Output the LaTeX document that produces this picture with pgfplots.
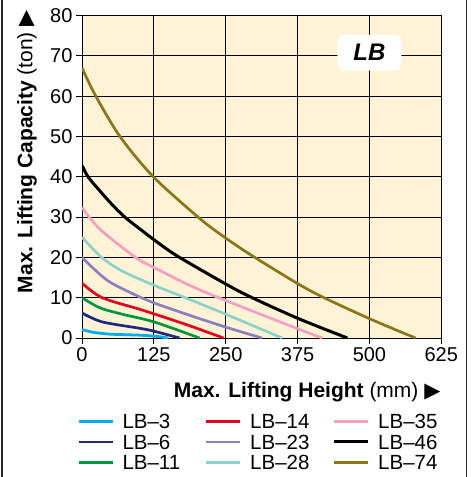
\documentclass[border=0pt]{standalone}
\usepackage{pgfplots}
\pgfplotsset{compat=1.18}
\usepackage{fontspec}
\setmainfont{Liberation Sans}
\newfontfamily\sym{DejaVu Sans}
\definecolor{bgc}{HTML}{FFF3D6}
\definecolor{cLBa}{HTML}{00AEEF}
\definecolor{cLBb}{HTML}{1B2A7E}
\definecolor{cLBc}{HTML}{00953F}
\definecolor{cLBd}{HTML}{E3051B}
\definecolor{cLBe}{HTML}{8E80C0}
\definecolor{cLBf}{HTML}{8ED1CB}
\definecolor{cLBg}{HTML}{F4A0C6}
\definecolor{cLBh}{HTML}{000000}
\definecolor{cLBi}{HTML}{8C7417}
\definecolor{gridgrey}{HTML}{6F6A5E}
\newcommand{\lent}[1]{\makebox[91pt][l]{\hspace{8.5pt}#1}}
\begin{document}
\begin{tikzpicture}[x=1pt,y=1pt]
\useasboundingbox (0,0) rectangle (471,477);
\draw[line width=1.5pt, black!85] (2,0) -- (2,477);
\draw[line width=1.5pt, black!85] (466.5,0) -- (466.5,477);
\begin{axis}[
  at={(82pt,139pt)}, anchor=south west,
  scale only axis, width=359.3pt, height=322.5pt,
  xmin=0, xmax=625, ymin=0, ymax=80,
  xtick={0,125,250,375,500,625}, ytick={0,10,20,30,40,50,60,70,80},
  grid=major, major grid style={black, line width=0.8pt},
  extra y ticks={0,10,40,70}, extra y tick labels={},
  extra y tick style={grid style={draw=gridgrey, line width=1.4pt}},
  extra x ticks={0}, extra x tick labels={},
  extra x tick style={grid style={draw=gridgrey, line width=1.4pt}},
  axis background/.style={fill=bgc},
  axis line style={black, line width=0.9pt},
  tick align=outside, major tick length=6pt, tick style={black, line width=0.8pt},
  tick pos=left,
  tick label style={font=\fontsize{20}{20}\selectfont},
  /pgf/number format/assume math mode=true,
  xlabel={\textbf{Max. Lifting Height} (mm) {\sym ▶}},
  xlabel style={font=\fontsize{21}{22}\selectfont, anchor=base east, at={(axis description cs:1.0075,-0.185)}},
  ylabel={\textbf{Max. Lifting Capacity} (ton) {\sym ▶}},
  ylabel style={font=\fontsize{21}{22}\selectfont, anchor=center, at={(axis description cs:-0.153,0.578)}},
  legend columns=3, transpose legend,
  legend style={draw=none, fill=none, inner sep=0pt, column sep=0pt, row sep=0pt,
    at={(axis description cs:-0.0139,-0.2264)}, anchor=north west,
    font=\fontsize{20.5}{20}\selectfont,
    nodes={inner xsep=0pt, inner ysep=3pt, text height=14.5pt, text depth=0pt, anchor=west}},
  legend cell align=left,
  legend image code/.code={\draw[#1] (0pt,0pt) -- (34pt,0pt);},
]
\addplot[cLBa, line width=2.8pt, smooth] coordinates {(0,2.1) (20,1.4) (50,0.95) (101,0.7) (130,0.4) (150,0)};
\addlegendentry{\lent{LB–3}}
\addplot[cLBb, line width=2.7pt, smooth] coordinates {(0,6.2) (35,4.0) (101,2.4) (125,1.7) (169.6,0)};
\addlegendentry{\lent{LB–6}}
\addplot[cLBc, line width=2.7pt, smooth] coordinates {(0,10) (31,7.5) (70,5.9) (125,4.0) (204.5,0)};
\addlegendentry{\lent{LB–11}}
\addplot[cLBd, line width=2.7pt, smooth] coordinates {(0,13.6) (35,10) (101,7.1) (125,6.0) (188,3.0) (246,0)};
\addlegendentry{\lent{LB–14}}
\addplot[cLBe, line width=2.7pt, smooth] coordinates {(0,20) (45,14.2) (103,10) (125,8.7) (190,5.5) (250,2.7) (313,0)};
\addlegendentry{\lent{LB–23}}
\addplot[cLBf, line width=2.7pt, smooth] coordinates {(0,25) (34,20) (70,16.6) (125,13.1) (183,9.8) (250,5.9) (348,0)};
\addlegendentry{\lent{LB–28}}
\addplot[cLBg, line width=2.7pt, smooth] coordinates {(0,32.4) (31,27) (93,20) (125,17.5) (188,13) (250,9.3) (375,2.3) (418,0)};
\addlegendentry{\lent{LB–35}}
\addplot[cLBh, line width=3pt, smooth] coordinates {(0,42.8) (10.4,40) (28,37) (51,33.3) (74.4,30) (103,26.8) (125,24.4) (165,20.4) (250,13.4) (293,10.2) (375,4.9) (461.5,0)};
\addlegendentry{\lent{LB–46}}
\addplot[cLBi, line width=2.7pt, smooth] coordinates {(0,67) (24,60) (66,50) (124,40) (206,29.5) (250,24.8) (295,20.5) (375,13.5) (421,10) (500,4.8) (580,0)};
\addlegendentry{\lent{LB–74}}
\node[fill=white, rounded corners=7pt, minimum width=64pt, minimum height=36pt, inner sep=0pt,
  font=\fontsize{24}{24}\selectfont\bfseries\itshape] at (axis cs:500,70.8) {LB};
\end{axis}
\end{tikzpicture}
\end{document}
